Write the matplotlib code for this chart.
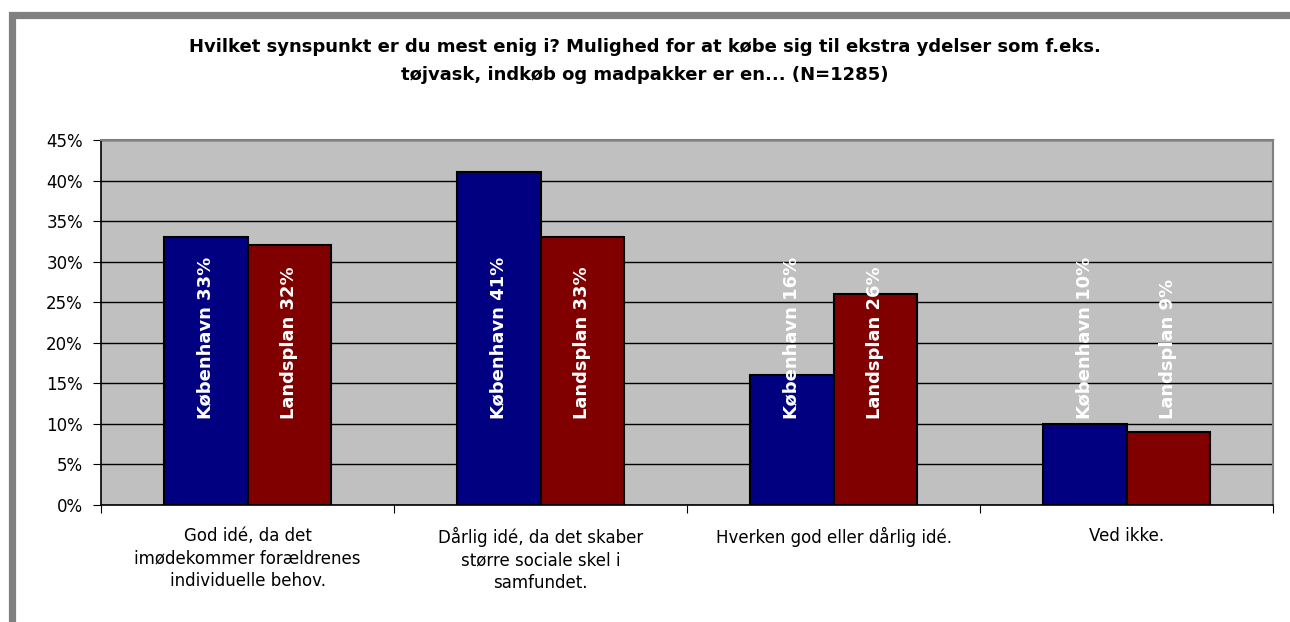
import matplotlib
matplotlib.use("Agg")
import matplotlib.pyplot as plt
import numpy as np
from matplotlib.patches import Rectangle

categories = ["God idé, da det\nimødekommer forældrenes\nindividuelle behov.",
              "Dårlig idé, da det skaber\nstørre sociale skel i\nsamfundet.",
              "Hverken god eller dårlig idé.",
              "Ved ikke."]
series_names = ["København", "Landsplan"]
kbh = [33, 41, 16, 10]
land = [32, 33, 26, 9]
yticks = [0, 5, 10, 15, 20, 25, 30, 35, 40, 45]
title = ("Hvilket synspunkt er du mest enig i? Mulighed for at købe sig til ekstra ydelser som f.eks.\n"
         "tøjvask, indkøb og madpakker er en... (N=1285)")

plt.rcParams['font.family'] = ['DejaVu Sans']

fig = plt.figure(figsize=(12.9, 6.22), dpi=100)
fig.patch.set_facecolor('white')

# outer frame
W, H = 1290, 622
fig.patches.append(Rectangle((11.5 / W, -0.2), 1.5, (H - 14.5) / H + 0.2,
                             transform=fig.transFigure, fill=False,
                             edgecolor='#808080', linewidth=5.2, zorder=0))

ax = fig.add_axes([101 / W, (H - 505) / H, (1273 - 101) / W, (505 - 140) / H])
ax.set_facecolor('#C0C0C0')

x = np.arange(len(categories))
w = 1 / 3.5
ax.bar(x - w / 2, kbh, w, color='#000080', edgecolor='black', linewidth=1.5, zorder=3)
ax.bar(x + w / 2, land, w, color='#800000', edgecolor='black', linewidth=1.5, zorder=3)

for xi, v in zip(x - w / 2, kbh):
    ax.text(xi, 10.6, f"{series_names[0]} {v}%", rotation=90, ha='center', va='bottom',
            color='white', fontweight='bold', fontsize=13, zorder=5)
for xi, v in zip(x + w / 2, land):
    ax.text(xi, 10.6, f"{series_names[1]} {v}%", rotation=90, ha='center', va='bottom',
            color='white', fontweight='bold', fontsize=13, zorder=5)

ax.set_xlim(-0.5, len(categories) - 0.5)
ax.set_ylim(0, 45)
ax.set_yticks(yticks)
ax.set_yticklabels([f"{t}%" for t in yticks], fontsize=12)
ax.yaxis.grid(True, color='black', linewidth=1.0, zorder=1)
ax.set_axisbelow(True)

ax.set_xticks(np.arange(-0.5, len(categories) + 0.5, 1))
ax.set_xticklabels([])
ax.set_xticks(x, minor=True)
ax.set_xticklabels(categories, minor=True, fontsize=12, linespacing=1.33, va='top')
ax.tick_params(axis='x', which='minor', length=0, pad=15.5)
ax.tick_params(axis='x', which='major', length=6, direction='out', color='black')
ax.tick_params(axis='y', length=6, direction='out', pad=7)

for s in ['top', 'right']:
    ax.spines[s].set_color('#808080')
    ax.spines[s].set_linewidth(1.5)
for s in ['left', 'bottom']:
    ax.spines[s].set_color('black')
    ax.spines[s].set_linewidth(1.2)

fig.text(0.5, (H - 61) / H, title, ha='center', va='center', fontsize=13,
         fontweight='bold', linespacing=1.7)

fig.savefig("out.png", dpi=100)
